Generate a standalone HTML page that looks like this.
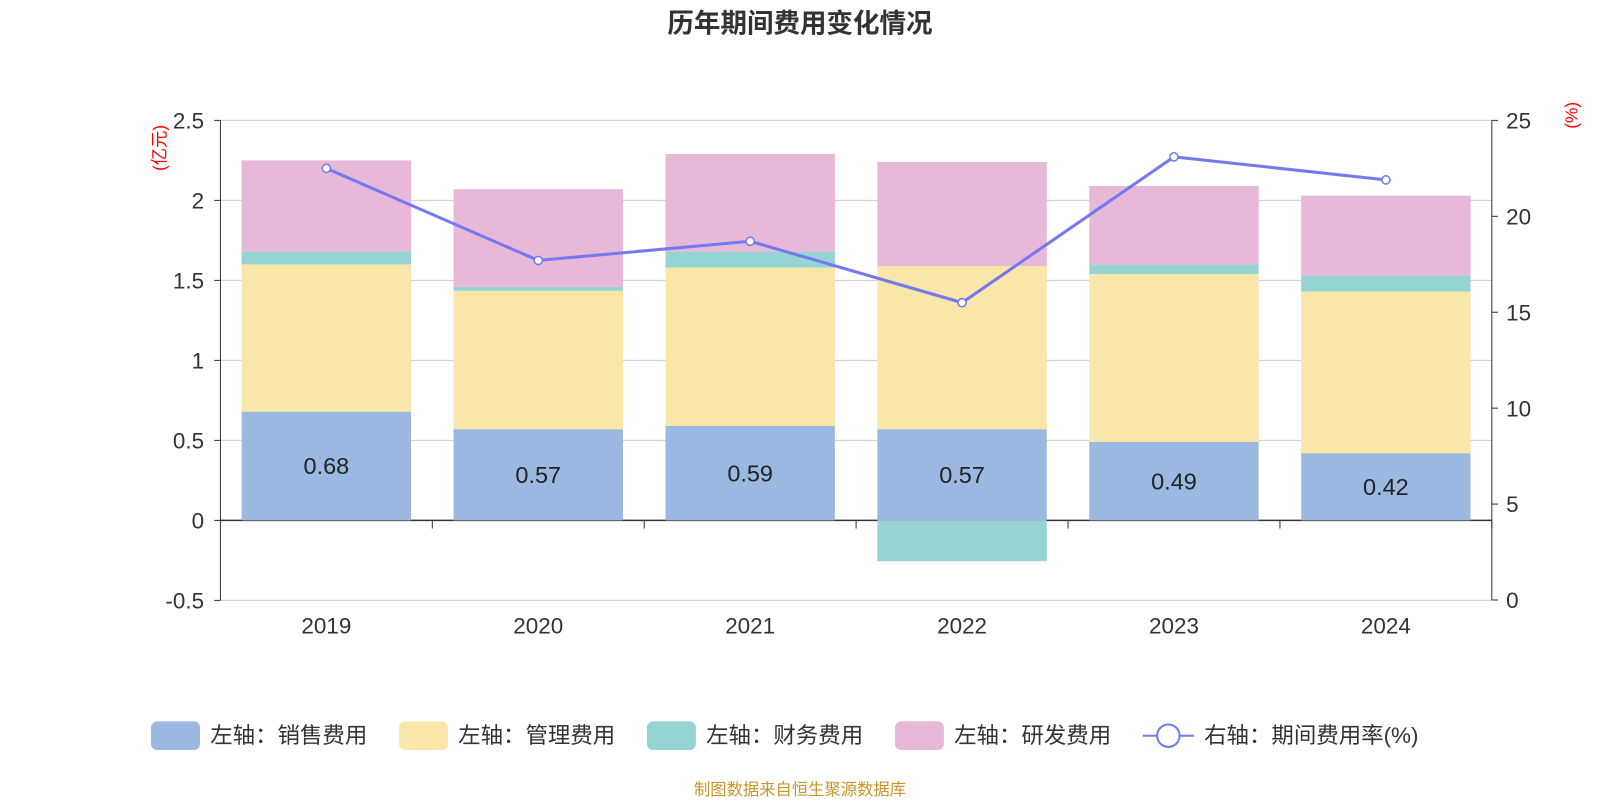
<!DOCTYPE html>
<html><head><meta charset="utf-8">
<style>
html,body{margin:0;padding:0;background:#fff;overflow:hidden;}
svg text{font-family:"Liberation Sans","Noto Sans CJK SC",sans-serif;}
</style></head>
<body>
<svg id="chart" width="1600" height="800" viewBox="0 0 1568 784" xmlns="http://www.w3.org/2000/svg">
<text x="784" y="32" text-anchor="middle" font-size="26" font-weight="bold" fill="#333">历年期间费用变化情况</text>
<g id="grid"></g><g id="bars"></g><g id="line"></g><g id="axes"></g>
<text x="784" y="779" text-anchor="middle" font-size="16" fill="#c8962a">制图数据来自恒生聚源数据库</text>
</svg>
<script>
const years=['2019','2020','2021','2022','2023','2024'];
const sales=[0.68,0.57,0.59,0.57,0.49,0.42];
const mgmt=[0.92,0.865,0.99,1.02,1.05,1.01];
const fin=[0.08,0.025,0.10,-0.255,0.06,0.10];
const rnd=[0.57,0.61,0.61,0.65,0.49,0.50];
const rate=[22.5,17.7,18.7,15.5,23.1,21.9];
const leftTicks=[-0.5,0,0.5,1,1.5,2,2.5];
const rightTicks=[0,5,10,15,20,25];

const NS='http://www.w3.org/2000/svg';
const X0=216,X1=1462;
const yL=v=>510-v*156.8;
const yR=v=>588-v*18.8;
const step=(X1-X0)/years.length;
const xC=i=>X0+step*(i+0.5);
function mk(tag,attrs,parent,txt){const e=document.createElementNS(NS,tag);for(const k in attrs)e.setAttribute(k,attrs[k]);if(txt!==undefined)e.textContent=txt;document.getElementById(parent).appendChild(e);return e;}

leftTicks.forEach(t=>{
  const g=mk('line',{x1:X0,x2:X1,y1:yL(t),y2:yL(t),stroke:t===0?'#333':'#ccc','stroke-width':t===0?1.5:1},'grid');
  
  
  const l=mk('text',{x:200,y:yL(t)+8,'text-anchor':'end','font-size':22,fill:'#333'},'axes',String(t));
  
  
  mk('line',{x1:X0-6,x2:X0,y1:yL(t),y2:yL(t),stroke:'#333'},'axes');
});
rightTicks.forEach(t=>{
  const l=mk('text',{x:1476,y:yR(t)+8,'font-size':22,fill:'#333'},'axes',String(t));
  
  
  mk('line',{x1:X1,x2:X1+6,y1:yR(t),y2:yR(t),stroke:'#333'},'axes');
});
mk('line',{x1:X0,x2:X0,y1:yL(2.5),y2:yL(-0.5),stroke:'#333'},'axes');
mk('line',{x1:X1,x2:X1,y1:yR(25),y2:yR(0),stroke:'#333'},'axes');
let u=mk('text',{x:0,y:0,'font-size':17,fill:'red',transform:'translate(162,145) rotate(-90)','text-anchor':'middle'},'axes','(亿元)');


u=mk('text',{x:0,y:0,'font-size':17,fill:'red',transform:'translate(1546,113) rotate(-90)','text-anchor':'middle'},'axes','(%)');



const colors=['#9bb8e0','#f8e7a8','#96d4d4','#e7b8d8'];
const series=[sales,mgmt,fin,rnd];
const names=['sales','mgmt','finance','rnd'];
years.forEach((y,i)=>{
  const x=xC(i),w=166;
  let pos=0,neg=0;
  series.forEach((s,k)=>{
    const v=s[i];let a,b;
    if(v>=0){a=pos;b=pos+v;pos=b;}else{a=neg;b=neg+v;neg=b;}
    const r=mk('rect',{x:x-w/2,y:Math.min(yL(a),yL(b)),width:w,height:Math.abs(yL(a)-yL(b)),fill:colors[k]},'bars');
    
    
  });
  const t=mk('text',{x:x,y:(yL(0)+yL(sales[i]))/2+8,'text-anchor':'middle','font-size':23,fill:'#222'},'bars',sales[i].toFixed(2));
  
  
  const xl=mk('text',{x:x,y:621,'text-anchor':'middle','font-size':22,fill:'#333'},'axes',y);
  
  
  mk('line',{x1:X0+step*(i+1),x2:X0+step*(i+1),y1:510,y2:518,stroke:'#333'},'axes');
});
const pts=rate.map((r,i)=>xC(i)+','+yR(r)).join(' ');
const pl=mk('polyline',{points:pts,fill:'none',stroke:'#7479f0','stroke-width':3},'line');


rate.forEach((r,i)=>{
  const c=mk('circle',{cx:xC(i),cy:yR(r),r:4,fill:'#fff',stroke:'#7479f0','stroke-width':1.5},'line');
  
  
});
const leg=[['左轴：销售费用',148],['左轴：管理费用',391],['左轴：财务费用',634],['左轴：研发费用',877]];
leg.forEach((l,k)=>{
  const r=mk('rect',{x:l[1],y:707,width:48,height:28,rx:6,fill:colors[k]},'axes');
  
  
  const t=mk('text',{x:l[1]+58,y:728,'font-size':22,fill:'#333'},'axes',l[0]);
  
  
});
mk('line',{x1:1120,x2:1170,y1:721,y2:721,stroke:'#7479f0','stroke-width':2},'axes');
const lc=mk('circle',{cx:1145,cy:721,r:11,fill:'#fff',stroke:'#7479f0','stroke-width':2},'axes');


const lt=mk('text',{x:1180,y:728,'font-size':22,fill:'#333'},'axes','右轴：期间费用率(%)');


</script>
</body></html>
